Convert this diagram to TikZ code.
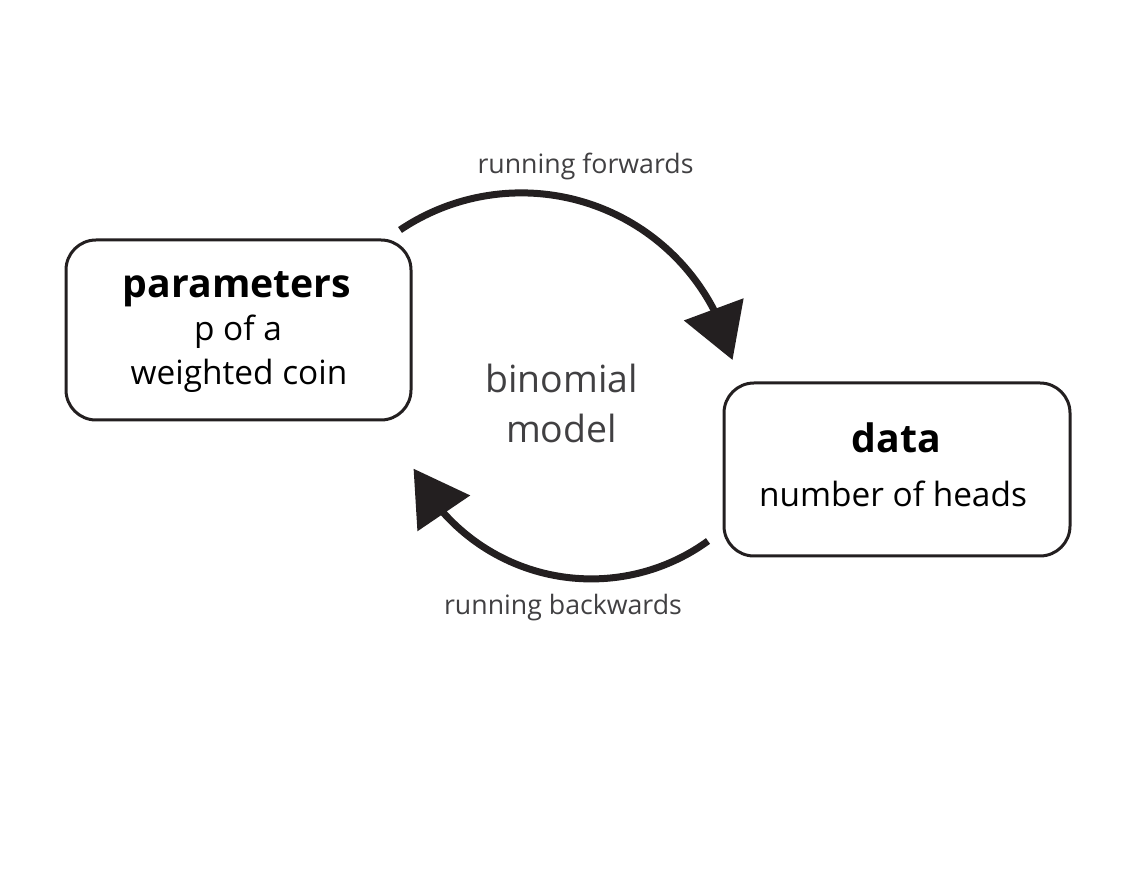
\documentclass[tikz,border=0pt]{standalone}
\usepackage{fontspec}
\setmainfont{Open Sans}
\usetikzlibrary{arrows.meta,bending}
\definecolor{inkblack}{HTML}{231F20}
\definecolor{labelgray}{HTML}{414042}
\tikzset{
  modelbox/.style={draw=inkblack, line width=0.06cm, rounded corners=0.6cm},
  boxtitle/.style={anchor=base, font=\bfseries\fontsize{22.3}{26}\selectfont},
  boxtext/.style={anchor=base, font=\fontsize{19}{23}\selectfont},
  flowarrow/.style={draw=inkblack, line width=0.14cm, -{Triangle[length=1.08cm, width=1.24cm]}},
  flowlabel/.style={anchor=base, text=labelgray, font=\fontsize{15.2}{18}\selectfont},
  modellabel/.style={anchor=base, text=labelgray, font=\fontsize{21.3}{25}\selectfont}
}

\begin{document}
\begin{tikzpicture}
		%%%%% START %%%%%
		\useasboundingbox (0, 0) rectangle (22.72, 17.46);
		
		\node[modelbox, minimum width=6.9cm, minimum height=3.6cm] (params) at (4.77, 10.86) {};
		\node[boxtitle] (paramstitle) at (4.74, 11.5) {parameters};
		\node[boxtext] (paramsp) at (4.76, 10.64) {p of a};
		\node[boxtext] (paramscoin) at (4.78, 9.76) {weighted coin};
		
		\node[modelbox, minimum width=6.92cm, minimum height=3.46cm] (data) at (17.94, 8.07) {};
		\node[boxtitle] (datatitle) at (17.93, 8.4) {data};
		\node[boxtext] (dataheads) at (17.86, 7.32) {number of heads};
		
		\node[modellabel] (binom) at (11.23, 9.6) {binomial};
		\node[modellabel] (model) at (11.23, 8.6) {model};
		
		\coordinate (fwdstart) at (8.0, 12.86);
		\coordinate (bwdstart) at (14.16, 6.64);
		\draw[flowarrow] (fwdstart) arc[start angle=124, end angle=13.3, radius=4.34cm];
		\draw[flowarrow] (bwdstart) arc[start angle=-54, end angle=-153.6, radius=3.97cm];
		
		\node[flowlabel] (fwdlabel) at (11.71, 13.98) {running forwards};
		\node[flowlabel] (bwdlabel) at (11.26, 5.16) {running backwards};
		
		%%%%% END %%%%%
	\end{tikzpicture}
\end{document}
